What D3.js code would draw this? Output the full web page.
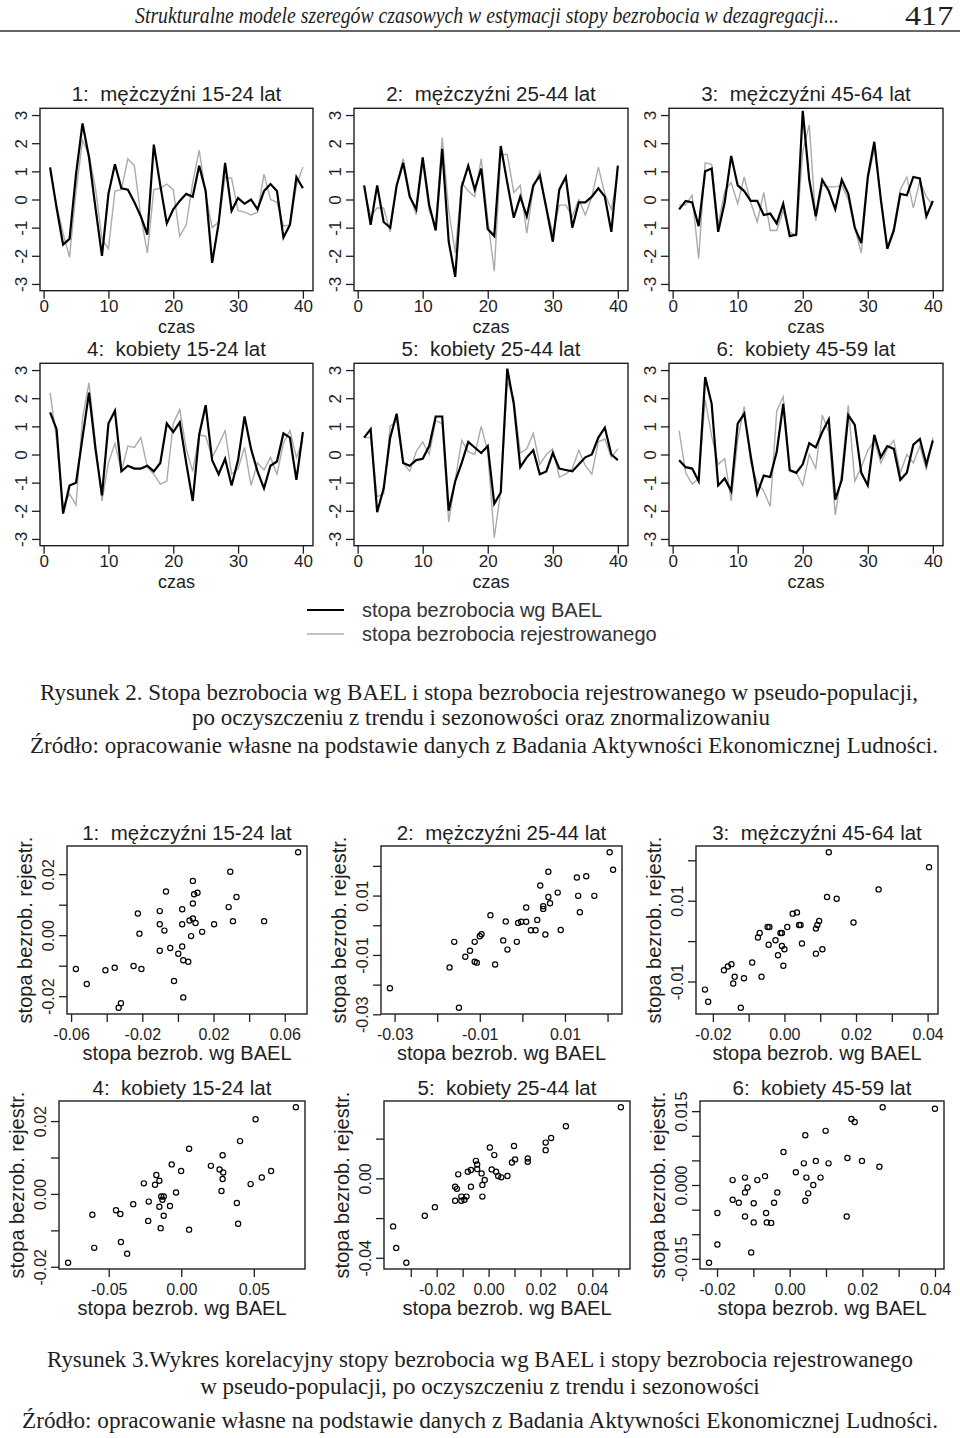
<!DOCTYPE html>
<html>
<head>
<meta charset="utf-8">
<script src="https://cdn.jsdelivr.net/npm/d3@7"></script>
<style>
  body { margin: 0; background: #fff; }
  text { white-space: pre; }
</style>
</head>
<body>
<script>
// ---- data: time series (standardised), 40 quarters ----
const czas = [1,2,3,4,5,6,7,8,9,10,11,12,13,14,15,16,17,18,19,20,21,22,23,24,25,26,27,28,29,30,31,32,33,34,35,36,37,38,39,40];
const groupTitles = ["1:  mężczyźni 15-24 lat", "2:  mężczyźni 25-44 lat", "3:  mężczyźni 45-64 lat",
                     "4:  kobiety 15-24 lat", "5:  kobiety 25-44 lat", "6:  kobiety 45-59 lat"];

const bael1 = [1.14,-0.3,-1.6,-1.4,0.9,2.7,1.5,-0.3,-2.0,0.2,1.25,0.4,0.35,-0.1,-0.6,-1.25,1.95,0.5,-0.85,-0.35,-0.05,0.2,0.1,1.2,0.3,-2.25,-0.85,1.3,-0.4,0.05,-0.15,0.0,-0.35,0.3,0.55,0.3,-1.35,-0.9,0.8,0.4];
const rej1  = [1.0,-0.2,-1.2,-2.05,0.3,2.1,1.6,0.4,-1.4,-1.75,0.3,0.35,1.45,1.2,-0.6,-1.9,0.35,0.4,0.55,0.35,-1.3,-0.9,0.6,1.75,0.2,-1.0,-0.8,0.8,0.75,-0.4,-0.45,-0.55,-0.45,0.9,0.0,-0.1,-0.95,-0.9,0.5,1.15];
const bael2 = [0.5,-0.9,0.5,-0.8,-1.0,0.5,1.3,0.1,-0.35,1.5,-0.2,-1.1,1.8,-1.5,-2.75,0.45,1.2,0.35,1.1,-1.05,-1.3,1.9,0.6,-0.65,0.1,-0.6,0.5,0.85,-0.3,-1.5,0.35,0.8,-1.0,-0.1,-0.1,0.1,0.4,0.1,-1.15,1.2];
const rej2  = [0.4,-0.6,-0.3,-0.3,-1.15,0.5,1.45,0.2,-0.55,1.3,-0.4,-0.9,2.2,-0.4,-1.9,0.6,0.3,0.1,1.45,-0.7,-2.55,1.6,1.6,0.25,0.5,-1.2,0.4,1.0,-0.3,-1.2,-0.2,-0.2,-0.6,0.0,-0.55,0.1,1.15,0.2,-0.35,0.9];
const bael3 = [-0.35,-0.05,-0.1,-0.95,1.0,1.1,-1.15,-0.1,1.55,0.5,0.3,-0.05,-0.05,-0.55,-0.5,-0.85,-0.15,-1.3,-1.25,3.15,0.7,-0.6,0.7,0.3,-0.35,0.7,0.2,-1.0,-1.55,0.8,2.05,0.0,-1.75,-1.1,0.2,0.15,0.8,0.75,-0.6,-0.05];
const rej3  = [-0.2,-0.2,0.15,-2.1,1.3,1.25,-0.9,0.3,0.6,-0.15,0.8,-0.1,-0.8,0.25,-1.1,-1.1,-0.4,-1.15,-1.3,1.7,2.65,-0.75,0.5,0.45,0.45,0.5,0.0,-1.0,-1.9,0.7,1.8,0.1,-1.7,-1.0,0.35,0.8,-0.3,0.65,0.1,-0.2];
const bael4 = [1.5,0.9,-2.1,-1.1,-1.0,0.6,2.2,0.2,-1.45,1.1,1.55,-0.6,-0.4,-0.5,-0.5,-0.4,-0.6,-0.3,1.1,0.8,1.15,-0.3,-1.65,0.7,1.75,-0.2,-0.7,-0.15,-1.1,-0.2,1.35,0.2,-0.6,-1.2,-0.4,-0.25,0.75,0.6,-0.9,0.8];
const rej4  = [2.2,0.5,-1.85,-1.4,-1.8,1.3,2.55,0.4,-1.65,-0.3,0.4,-0.6,0.3,0.25,0.6,-0.45,-0.7,-1.05,-0.95,1.1,1.6,0.2,-0.6,0.7,0.65,-0.1,0.35,0.85,-0.7,-0.5,0.25,-1.1,-0.3,-0.55,-0.1,-0.7,0.4,0.85,-0.1,0.5];
const bael5 = [0.6,0.9,-2.05,-1.2,0.6,1.45,-0.3,-0.4,-0.2,-0.15,0.3,1.35,1.35,-2.0,-0.95,-0.3,0.45,0.25,0.05,0.3,-1.75,-1.35,3.05,1.8,-0.45,-0.1,0.15,-0.7,-0.6,0.05,-0.5,-0.55,-0.6,-0.35,-0.1,0.0,0.6,0.95,0.0,-0.2];
const rej5  = [0.6,0.6,-1.5,-1.4,1.0,1.2,-0.3,-0.6,0.1,0.45,0.0,1.2,1.1,-2.4,-0.9,0.5,0.1,0.0,1.0,0.1,-2.95,-1.3,2.6,2.0,0.05,0.2,0.75,-0.35,0.0,0.2,-0.8,-0.7,-0.5,0.15,-0.4,-0.7,0.45,0.55,-0.1,0.2];
const bael6 = [-0.2,-0.45,-0.5,-0.95,2.75,1.8,-1.1,-0.85,-1.3,1.1,1.45,-0.05,-1.4,-0.75,-0.8,0.1,1.8,-0.55,-0.65,-0.35,0.4,0.25,0.8,1.25,-1.6,-0.9,1.4,1.05,-0.65,-1.1,0.7,-0.1,0.3,0.2,-0.9,-0.65,0.35,0.55,-0.35,0.5];
const rej6  = [0.85,-0.65,-1.05,-0.85,1.95,0.65,-0.35,-0.15,-1.65,0.5,1.7,-0.3,-1.0,-1.3,-1.85,1.55,2.05,-0.6,-0.65,-1.1,0.0,-0.5,1.4,0.8,-2.15,-0.6,1.75,-0.95,-0.45,0.15,0.5,-0.3,0.2,0.5,-0.65,0.0,-0.3,0.3,-0.55,0.6];

const tsXTicks = [0, 10, 20, 30, 40];
const tsYTicks = [-3, -2, -1, 0, 1, 2, 3];
const legendLabels = ["stopa bezrobocia wg BAEL", "stopa bezrobocia rejestrowanego"];

// ---- data: scatter (BAEL vs registered), residuals ----
const sx1 = [0.0675,0.0294,0.0329,0.0285,0.0309,0.0484,0.0203,0.0084,0.011,0.0091,0.0084,0.0024,0.0084,0.0065,0.0099,0.0024,0.0074,0.0136,-0.0067,-0.0102,-0.0102,-0.0076,-0.0225,-0.0216,-0.0102,-0.0043,0.0002,0.0024,0.003,0.0058,-0.0022,0.003,-0.0205,-0.0249,-0.0355,-0.0407,-0.0573,-0.0512,-0.032,-0.0333];
const sy1 = [0.0272,0.0208,0.0125,0.0092,0.0046,0.0046,0.0036,0.0178,0.0139,0.0134,0.0104,0.0085,0.0055,0.0048,0.004,0.0036,-0.0003,0.0011,0.0143,0.0079,0.0036,0.0015,0.0071,0.0005,-0.0051,-0.0042,-0.0061,-0.0037,-0.0082,-0.0087,-0.015,-0.0204,-0.0111,-0.0101,-0.0107,-0.0115,-0.0111,-0.016,-0.0223,-0.0238];
const sx2 = [0.0205,0.0213,0.0061,0.015,0.0128,0.0042,0.0083,0.0061,0.0131,0.0169,0.0065,0.0049,0.0049,0.0009,0.0135,0.0035,0.0009,-0.0003,-0.001,-0.0039,-0.0075,0.002,0.0031,0.0054,0.009,-0.0045,-0.0013,-0.0035,-0.0064,-0.0096,-0.01,-0.0112,-0.0123,-0.0134,-0.0112,-0.0107,-0.016,-0.0171,-0.0311,-0.0149];
const sy2 = [0.0246,0.0187,0.018,0.0165,0.0161,0.0134,0.011,0.0095,0.0099,0.0099,0.0074,0.0064,0.0055,0.006,0.0044,0.0018,0.0012,0.0012,0.0008,0.0013,0.0034,-0.0017,-0.0017,-0.0031,-0.0016,-0.0051,-0.0056,-0.0082,-0.0132,-0.003,-0.0037,-0.0056,-0.0086,-0.0106,-0.0123,-0.0126,-0.0056,-0.0142,-0.0212,-0.0278];
const sx3 = [0.0124,0.0404,0.0263,0.0119,0.0146,0.0023,0.0035,0.0193,0.0097,0.0092,0.0088,0.0041,0.0045,0.0008,-0.0047,-0.0042,-0.0011,-0.0007,-0.0069,-0.0074,-0.0025,-0.0044,0.0049,-0.0007,0,-0.0018,0.0088,0.0106,-0.0003,-0.009,-0.0148,-0.0158,-0.0169,-0.0139,-0.0113,-0.0064,-0.0143,-0.0222,-0.0213,-0.0122];
const sy3 = [0.022,0.0183,0.0128,0.0109,0.0105,0.0068,0.0071,0.0046,0.005,0.004,0.0031,0.004,0.004,0.0035,0.0035,0.0035,0.002,0.002,0.002,0.0009,0.0002,-0.0009,-0.0006,-0.0012,-0.002,-0.0035,-0.0031,-0.002,-0.0061,-0.0053,-0.0057,-0.0063,-0.0072,-0.0088,-0.0092,-0.0088,-0.0105,-0.012,-0.015,-0.0165];
const sx4 = [0.079,0.0512,0.0405,0.0054,0.0285,-0.0066,-0.0001,0.0204,0.0264,0.0289,0.0619,0.0555,0.0285,0.0478,0.0277,0.0383,0.0392,0.0054,-0.0036,-0.0078,-0.0172,-0.0151,-0.0181,-0.0258,-0.0138,-0.0121,-0.013,-0.0151,-0.0224,-0.0331,-0.0121,-0.0228,-0.0142,-0.045,-0.042,-0.0613,-0.0416,-0.06,-0.0373,-0.078];
const sy4 = [0.0238,0.0205,0.0145,0.0124,0.0106,0.0081,0.0063,0.0077,0.0067,0.0059,0.0063,0.0045,0.0041,0.0027,0.0008,-0.0025,-0.0082,-0.0098,0.0004,-0.0033,0.0052,0.0036,0.0025,0.0029,-0.0007,-0.0007,-0.0016,-0.0035,-0.0021,-0.0028,-0.006,-0.0074,-0.0094,-0.0045,-0.0055,-0.0057,-0.0132,-0.0148,-0.0164,-0.0189];
const sx5 = [0.051,0.0298,0.0241,0.022,0.022,0.0098,0.0005,0.0022,0.0102,0.009,0.0151,0.0151,-0.0049,-0.0044,-0.0117,-0.008,-0.0068,-0.0044,-0.0027,0.0012,0.0029,0.0037,0.0049,0.0073,-0.0015,-0.0024,-0.0068,-0.0129,-0.0122,-0.0024,-0.0085,-0.0093,-0.0129,-0.0105,-0.0207,-0.0246,-0.0368,-0.0356,-0.0317,-0.0105];
const sy5 = [0.0358,0.0262,0.0203,0.018,0.0142,0.0163,0.0155,0.0117,0.0095,0.008,0.01,0.0083,0.0088,0.007,0.002,0.0033,0.0042,0.0047,0.0025,0.0045,0.0033,0.0012,0.0005,0.0012,-0.0008,-0.0033,-0.0042,-0.0042,-0.0053,-0.0092,-0.0092,-0.0108,-0.0113,-0.0113,-0.0145,-0.0188,-0.0242,-0.035,-0.0425,-0.0092];
const sx6 = [0.0256,0.04,0.017,0.0179,0.0099,0.0043,-0.0017,0.0159,0.0199,0.0247,0.0107,0.0072,0.0039,0.0017,0.0046,0.0085,0.0065,0.0051,0.0043,0.0157,-0.0034,-0.0043,-0.0068,-0.0089,-0.0123,-0.0116,-0.0123,-0.0157,-0.0157,-0.014,-0.0099,-0.0123,-0.0099,-0.0065,-0.0063,-0.0051,-0.0199,-0.0199,-0.0106,-0.0222];
const sy6 = [0.0158,0.0155,0.0134,0.0128,0.011,0.0101,0.0067,0.0055,0.0049,0.0037,0.0044,0.0049,0.0044,0.0026,0.0015,0.0015,0,-0.0017,-0.0032,-0.0064,-0.0015,-0.0036,0.0018,0.001,0.0015,-0.0005,-0.0015,0.001,-0.003,-0.0036,-0.0037,-0.0064,-0.0076,-0.0057,-0.0076,-0.0077,-0.0057,-0.0121,-0.0137,-0.0158];

// tick values and which of them carry a label (R drops overlapping labels)
const scXTicks  = [[-0.06,-0.04,-0.02,0,0.02,0.04,0.06], [-0.03,-0.02,-0.01,0,0.01,0.02], [-0.02,-0.01,0,0.01,0.02,0.03,0.04],
                   [-0.05,0,0.05], [-0.03,-0.02,-0.01,0,0.01,0.02,0.03,0.04,0.05], [-0.02,-0.01,0,0.01,0.02,0.03,0.04]];
const scXLabels = [[-0.06,-0.02,0.02,0.06], [-0.03,-0.01,0.01], [-0.02,0,0.02,0.04],
                   [-0.05,0,0.05], [-0.02,0,0.02,0.04], [-0.02,0,0.02,0.04]];
const scYTicks  = [[-0.02,-0.01,0,0.01,0.02], [-0.03,-0.02,-0.01,0,0.01,0.02], [-0.01,0,0.01,0.02],
                   [-0.02,-0.01,0,0.01,0.02], [-0.04,-0.02,0,0.02], [-0.015,-0.01,-0.005,0,0.005,0.01,0.015]];
const scYLabels = [[-0.02,0,0.02], [-0.03,-0.01,0.01], [-0.01,0.01],
                   [-0.02,0,0.02], [-0.04,0], [-0.015,0,0.015]];
const scYDigits = [2, 2, 2, 2, 2, 3];
const scXTitle = "stopa bezrob. wg BAEL";
const scYTitle = "stopa bezrob. rejestr.";

// ---- page layout ----
const width = 960, height = 1438;
const sans = "'Liberation Sans', Arial, Helvetica, sans-serif";
const serif = "'Liberation Serif', 'Times New Roman', serif";
const ink = "#1e1e1e";

const svg = d3.select("body").append("svg")
      .attr("width", width)
      .attr("height", height)
      .attr("viewBox", [0, 0, width, height]);

// running header (condensed italic, scaled horizontally)
svg.append("text")
      .attr("transform", "translate(135,23) scale(0.86,1)")
      .attr("font-family", serif).attr("font-style", "italic").attr("font-size", 23)
      .attr("fill", ink)
      .text("Strukturalne modele szeregów czasowych w estymacji stopy bezrobocia w dezagregacji...");
svg.append("text")
      .attr("transform", "translate(905,25) scale(1.15,1)")
      .attr("font-family", serif).attr("font-size", 28)
      .attr("fill", ink)
      .text("417");
svg.append("line")
      .attr("x1", 0).attr("x2", width).attr("y1", 31).attr("y2", 31)
      .attr("stroke", "#333").attr("stroke-width", 1.5);

// draw box + axes shared by both kinds of panel
function frame(g, box, x, y, xTicks, xLabels, yTicks, yLabels, fmtX, fmtY, tickFont, xPad) {
      g.append("rect")
            .attr("x", box.l).attr("y", box.t)
            .attr("width", box.r - box.l).attr("height", box.b - box.t)
            .attr("fill", "none").attr("stroke", ink).attr("stroke-width", 1.4);

      g.append("g")
            .attr("transform", `translate(0,${box.b})`)
            .attr("color", ink)
            .call(d3.axisBottom(x).tickValues(xTicks).tickSize(8).tickPadding(xPad)
                  .tickFormat(d => xLabels.some(v => Math.abs(v - d) < 1e-9) ? fmtX(d) : ""))
            .call(a => a.select(".domain").remove())
            .call(a => a.selectAll(".tick line").attr("stroke-width", 1.3))
            .call(a => a.selectAll(".tick text")
                  .attr("font-family", sans).attr("font-size", tickFont).attr("fill", ink));

      g.append("g")
            .attr("transform", `translate(${box.l},0)`)
            .attr("color", ink)
            .call(d3.axisLeft(y).tickValues(yTicks).tickSize(8)
                  .tickFormat(d => yLabels.some(v => Math.abs(v - d) < 1e-9) ? fmtY(d) : ""))
            .call(a => a.select(".domain").remove())
            .call(a => a.selectAll(".tick line").attr("stroke-width", 1.3))
            .call(a => a.selectAll(".tick text")
                  .attr("x", null).attr("dy", null)
                  .attr("transform", "translate(-19,0) rotate(-90)")
                  .attr("text-anchor", "middle")
                  .attr("dominant-baseline", "central")
                  .attr("font-family", sans).attr("font-size", tickFont).attr("fill", ink));
}

// ---- Figure 2: time series ----
const tsBael = [bael1, bael2, bael3, bael4, bael5, bael6];
const tsRej  = [rej1, rej2, rej3, rej4, rej5, rej6];
const tsCols = [[40, 313], [354, 628], [669, 943]];
const tsRows = [[108.3, 290.7], [363.3, 545.7]];

tsBael.forEach((bael, k) => {
      const [l, r] = tsCols[k % 3];
      const [t, b] = tsRows[Math.floor(k / 3)];
      const box = {l, r, t, b};
      const g = svg.append("g");
      const x = d3.scaleLinear().domain([-0.56, 41.56]).range([l, r]);
      const y = d3.scaleLinear().domain([-3.24, 3.24]).range([b, t]);
      const line = d3.line().x((d, i) => x(czas[i])).y(d => y(d));

      g.append("path").datum(tsRej[k])
            .attr("fill", "none").attr("stroke", "#ababab").attr("stroke-width", 1.4)
            .attr("d", line);
      g.append("path").datum(bael)
            .attr("fill", "none").attr("stroke", "#000").attr("stroke-width", 2.2)
            .attr("d", line);

      frame(g, box, x, y, tsXTicks, tsXTicks, tsYTicks, tsYTicks, d => String(d), d => String(d), 17, 1);

      g.append("text")
            .attr("x", (l + r) / 2).attr("y", t - 7)
            .attr("text-anchor", "middle")
            .attr("font-family", sans).attr("font-size", 20.5).attr("fill", ink)
            .text(groupTitles[k]);
      g.append("text")
            .attr("x", (l + r) / 2).attr("y", b + 42)
            .attr("text-anchor", "middle")
            .attr("font-family", sans).attr("font-size", 18).attr("fill", ink)
            .text("czas");
});

// legend
const legend = svg.append("g").attr("font-family", sans).attr("font-size", 20).attr("fill", "#333");
[["#000", 2.2], ["#ababab", 1.4]].forEach(([c, w], i) => {
      const yy = 610 + i * 24;
      legend.append("line").attr("x1", 307).attr("x2", 344).attr("y1", yy).attr("y2", yy)
            .attr("stroke", c).attr("stroke-width", w);
      legend.append("text").attr("x", 362).attr("y", yy + 7).text(legendLabels[i]);
});

// caption of Figure 2
const cap = svg.append("g").attr("font-family", serif).attr("font-size", 23).attr("fill", ink);
cap.append("text").attr("x", 40).attr("y", 700)
      .attr("textLength", 878).attr("lengthAdjust", "spacingAndGlyphs")
      .text("Rysunek 2. Stopa bezrobocia wg BAEL i stopa bezrobocia rejestrowanego w pseudo-populacji,");
cap.append("text").attr("x", 481).attr("y", 725).attr("text-anchor", "middle")
      .text("po oczyszczeniu z trendu i sezonowości oraz znormalizowaniu");
cap.append("text").attr("x", 30).attr("y", 753)
      .attr("textLength", 908).attr("lengthAdjust", "spacingAndGlyphs")
      .text("Źródło: opracowanie własne na podstawie danych z Badania Aktywności Ekonomicznej Ludności.");

// ---- Figure 3: scatter plots ----
const scX = [sx1, sx2, sx3, sx4, sx5, sx6];
const scY = [sy1, sy2, sy3, sy4, sy5, sy6];
const scBoxes = [
      {l: 67, r: 307, t: 846, b: 1014}, {l: 381, r: 622, t: 846, b: 1014}, {l: 696, r: 938, t: 846, b: 1014},
      {l: 59, r: 305, t: 1101, b: 1269}, {l: 384, r: 630, t: 1101, b: 1269}, {l: 700, r: 944, t: 1101, b: 1269}];
const padded = e => { const s = (e[1] - e[0]) * 0.04; return [e[0] - s, e[1] + s]; };

scX.forEach((xs, k) => {
      const box = scBoxes[k];
      const ys = scY[k];
      const g = svg.append("g");
      const x = d3.scaleLinear().domain(padded(d3.extent(xs))).range([box.l, box.r]);
      const y = d3.scaleLinear().domain(padded(d3.extent(ys))).range([box.b, box.t]);

      g.append("g")
            .attr("fill", "none").attr("stroke", "#000").attr("stroke-width", 1.2)
            .selectAll("circle")
            .data(d3.range(xs.length))
            .join("circle")
            .attr("cx", i => x(xs[i]))
            .attr("cy", i => y(ys[i]))
            .attr("r", 2.6);

      frame(g, box, x, y, scXTicks[k], scXLabels[k], scYTicks[k], scYLabels[k],
            d => d.toFixed(2), d => d.toFixed(scYDigits[k]), 16, 7);

      g.append("text")
            .attr("x", (box.l + box.r) / 2).attr("y", box.t - 6)
            .attr("text-anchor", "middle")
            .attr("font-family", sans).attr("font-size", 20.5).attr("fill", ink)
            .text(groupTitles[k]);
      g.append("text")
            .attr("x", (box.l + box.r) / 2).attr("y", box.b + 45.5)
            .attr("text-anchor", "middle")
            .attr("font-family", sans).attr("font-size", 20).attr("fill", ink)
            .text(scXTitle);
      g.append("text")
            .attr("transform", `translate(${box.l - 42},${(box.t + box.b) / 2}) rotate(-90)`)
            .attr("text-anchor", "middle").attr("dominant-baseline", "central")
            .attr("font-family", sans).attr("font-size", 20).attr("fill", ink)
            .text(scYTitle);
});

// caption of Figure 3
const cap3 = svg.append("g").attr("font-family", serif).attr("font-size", 23).attr("fill", ink);
cap3.append("text").attr("x", 47).attr("y", 1367)
      .attr("textLength", 866).attr("lengthAdjust", "spacingAndGlyphs")
      .text("Rysunek 3.Wykres korelacyjny stopy bezrobocia wg BAEL i stopy bezrobocia rejestrowanego");
cap3.append("text").attr("x", 480).attr("y", 1394).attr("text-anchor", "middle")
      .text("w pseudo-populacji, po oczyszczeniu z trendu i sezonowości");
cap3.append("text").attr("x", 22).attr("y", 1428)
      .attr("textLength", 916).attr("lengthAdjust", "spacingAndGlyphs")
      .text("Źródło: opracowanie własne na podstawie danych z Badania Aktywności Ekonomicznej Ludności.");
</script>
</body>
</html>
